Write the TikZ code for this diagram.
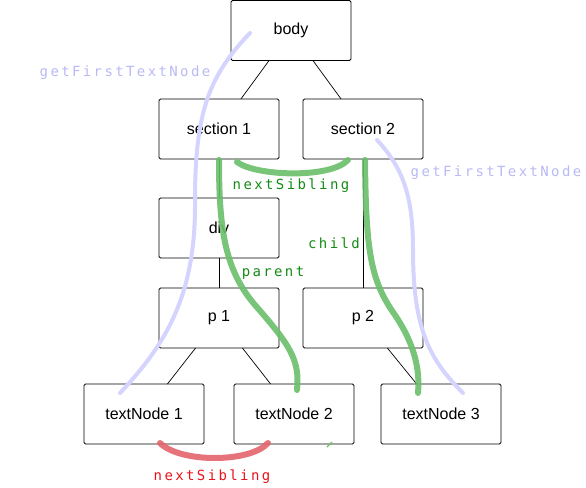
\documentclass[tikz,border=0pt]{standalone}
\usepackage{fontspec}
\setmainfont{Liberation Sans}
\newfontfamily\codefont[LetterSpace=17]{DejaVu Sans Mono}
\usetikzlibrary{positioning}

\definecolor{lookupline}{RGB}{212,212,255}
\definecolor{lookuptext}{RGB}{185,185,245}
\definecolor{walkline}{RGB}{105,190,105}
\definecolor{walktext}{RGB}{20,140,20}
\definecolor{sibline}{RGB}{228,100,108}
\definecolor{sibtext}{RGB}{232,20,28}

\tikzset{
  domnode/.style={draw=black,line width=0.9pt,rounded corners=1.5pt,minimum width=120pt,minimum height=60pt,inner sep=0pt,outer sep=0pt,font=\fontsize{16}{19}\selectfont},
  treeedge/.style={black,line width=0.7pt},
  lookup/.style={lookupline,line width=4pt,line cap=round},
  walk/.style={walkline,line width=6pt,line cap=round,opacity=0.9},
  sibwalk/.style={sibline,line width=6pt,line cap=round,opacity=0.9},
  codelabel/.style={font=\codefont\fontsize{14}{16}\selectfont,inner sep=0pt}
}

\begin{document}
\begin{tikzpicture}[x=1pt,y=-1pt]
\useasboundingbox (0,0) rectangle (586,487);

% tree
\node[domnode] (body) at (291,30.5) {body};
\node[domnode] (sec1) at (219,129) {section 1};
\node[domnode] (sec2) at (363,129) {section 2};
\node[domnode] (div) at (219,228) {div};
\node[domnode] (p1) at (219,318) {p 1};
\node[domnode] (p2) at (363,318) {p 2};
\node[domnode] (tn1) at (144,414) {textNode 1};
\node[domnode] (tn2) at (294,414) {textNode 2};
\node[domnode] (tn3) at (441,414) {textNode 3};

\draw[treeedge] (body) -- (sec1);
\draw[treeedge] (body) -- (sec2);
\draw[treeedge] (sec1) -- (div);
\draw[treeedge] (div) -- (p1);
\draw[treeedge] (sec2) -- (p2);
\draw[treeedge] (p1) -- (tn1);
\draw[treeedge] (p1) -- (tn2);
\draw[treeedge] (p2) -- (tn3);

% getFirstTextNode
\draw[lookup] (250,33) .. controls (210,75) and (195,110) .. (195,200) .. controls (196,290) and (170,340) .. (120,393);
\draw[lookup] (377,140) .. controls (405,170) and (413,200) .. (413,250) .. controls (413,330) and (430,360) .. (463,393);
\node[codelabel,text=lookuptext] (gl) at (125,73) {getFirstTextNode};
\node[codelabel,text=lookuptext] (gr) at (496,173) {getFirstTextNode};

% nextSibling, parent, child
\draw[walk] (237,162) .. controls (255,176) and (330,179) .. (348,160);
\draw[walk] (219,160) .. controls (219,230) and (225,270) .. (255,305) .. controls (290,345) and (300,360) .. (297,390);
\draw[walk] (365,160) .. controls (366,250) and (370,280) .. (395,315) .. controls (415,345) and (420,370) .. (418,393);
\draw[walkline,line width=1.2pt] (327,447) -- (332,442);
\node[codelabel,text=walktext] (ns1) at (291,186) {nextSibling};
\node[codelabel,text=walktext] (par) at (273,273) {parent};
\node[codelabel,text=walktext] (chl) at (334,243) {child};

\draw[sibwalk] (160,443) .. controls (180,463) and (250,463) .. (268,443);
\node[codelabel,text=sibtext] (ns2) at (212,477) {nextSibling};

\end{tikzpicture}
\end{document}
